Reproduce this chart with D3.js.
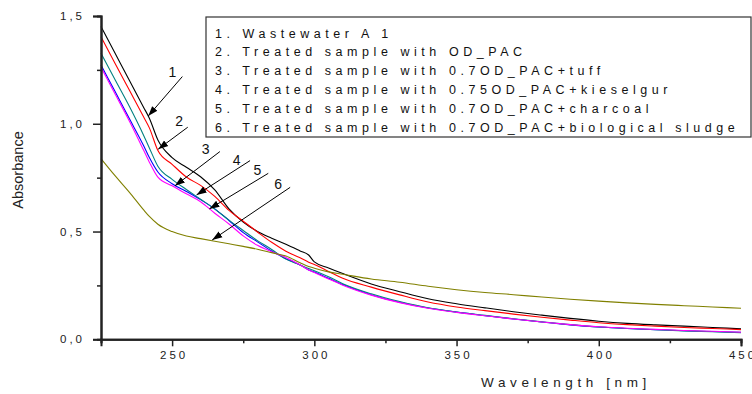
<!DOCTYPE html>
<html>
<head>
<meta charset="utf-8">
<script src="https://cdn.jsdelivr.net/npm/d3@7"></script>
<style>
  html, body { margin: 0; padding: 0; background: #fff; }
  svg { display: block; font-family: "Liberation Sans", Arial, sans-serif; }
</style>
</head>
<body>
<svg id="chart" width="752" height="394"></svg>
<script>
// ---------------- data ----------------
const wavelengths = [225, 230, 235, 240, 242, 245, 250, 255, 260, 265, 270, 275, 280, 285, 290, 295, 298, 300, 305, 310, 320, 330, 340, 350, 360, 370, 380, 390, 400, 410, 420, 430, 440, 450];

const series1 = [1.451, 1.326, 1.201, 1.076, 1.026, 0.925, 0.843, 0.798, 0.754, 0.693, 0.605, 0.544, 0.500, 0.469, 0.441, 0.410, 0.391, 0.359, 0.331, 0.305, 0.257, 0.221, 0.188, 0.165, 0.146, 0.128, 0.112, 0.097, 0.084, 0.074, 0.067, 0.061, 0.055, 0.049];
const series2 = [1.404, 1.279, 1.155, 1.031, 0.981, 0.876, 0.812, 0.753, 0.714, 0.663, 0.598, 0.548, 0.498, 0.450, 0.409, 0.378, 0.358, 0.347, 0.315, 0.283, 0.242, 0.206, 0.173, 0.150, 0.133, 0.117, 0.102, 0.089, 0.077, 0.068, 0.061, 0.055, 0.050, 0.045];
const series3 = [1.273, 1.148, 1.023, 0.898, 0.843, 0.776, 0.722, 0.686, 0.648, 0.605, 0.551, 0.495, 0.452, 0.410, 0.374, 0.345, 0.322, 0.312, 0.283, 0.254, 0.207, 0.172, 0.145, 0.126, 0.110, 0.094, 0.080, 0.067, 0.057, 0.050, 0.045, 0.040, 0.036, 0.032];
const series4 = [1.327, 1.203, 1.080, 0.946, 0.888, 0.803, 0.742, 0.695, 0.650, 0.604, 0.553, 0.505, 0.458, 0.417, 0.372, 0.345, 0.328, 0.318, 0.290, 0.258, 0.211, 0.175, 0.146, 0.127, 0.111, 0.095, 0.081, 0.068, 0.057, 0.050, 0.044, 0.039, 0.035, 0.031];
const series5 = [1.262, 1.137, 1.012, 0.877, 0.822, 0.752, 0.712, 0.675, 0.638, 0.585, 0.535, 0.480, 0.436, 0.406, 0.380, 0.345, 0.322, 0.310, 0.280, 0.251, 0.205, 0.170, 0.144, 0.125, 0.109, 0.094, 0.080, 0.068, 0.058, 0.051, 0.046, 0.041, 0.037, 0.033];
const series6 = [0.838, 0.758, 0.682, 0.600, 0.570, 0.534, 0.500, 0.479, 0.467, 0.455, 0.443, 0.431, 0.418, 0.402, 0.386, 0.355, 0.338, 0.330, 0.313, 0.302, 0.280, 0.265, 0.246, 0.230, 0.217, 0.207, 0.196, 0.186, 0.177, 0.169, 0.162, 0.156, 0.150, 0.144];

const seriesNames = [
  "1. Wastewater A 1",
  "2. Treated sample with OD_PAC",
  "3. Treated sample with 0.7OD_PAC+tuff",
  "4. Treated sample with 0.75OD_PAC+kieselgur",
  "5. Treated sample with 0.7OD_PAC+charcoal",
  "6. Treated sample with 0.7OD_PAC+biological sludge"
];
const seriesLabels = ["1", "2", "3", "4", "5", "6"];
const seriesColors = ["#000000", "#ff0000", "#0000ff", "#008080", "#ff00ff", "#808000"];

const xMajorTicks = [250, 300, 350, 400, 450];
const xMinorTicks = [225, 275, 325, 375, 425];
const yMajorTicks = [0, 0.5, 1.0, 1.5];
const yMinorTicks = [0.25, 0.75, 1.25];

// annotation arrows: label position, line start, arrow tip (data units)
const annLabelX = [250.1, 252.5, 261.8, 272.7, 280.0, 287.3];
const annLabelY = [1.242, 1.013, 0.883, 0.832, 0.786, 0.721];
const annStartX = [253.6, 255.5, 266.8, 277.4, 283.8, 291.5];
const annStartY = [1.219, 0.984, 0.871, 0.829, 0.770, 0.705];
const annTipX   = [241.6, 245.1, 251.0, 258.6, 263.1, 264.1];
const annTipY   = [1.036, 0.882, 0.712, 0.670, 0.605, 0.461];

// ---------------- chart ----------------
const svg = d3.select("#chart");
const x = d3.scaleLinear().domain([225, 450]).range([101, 741]);
const y = d3.scaleLinear().domain([0, 1.5]).range([339.3, 16]);

const allSeries = [series1, series2, series3, series4, series5, series6];

const line = d3.line()
  .x((d, i) => x(wavelengths[i]))
  .y(d => y(d))
  .curve(d3.curveMonotoneX);

const g = svg.append("g");
allSeries.forEach((s, k) => {
  g.append("path")
    .datum(s)
    .attr("fill", "none")
    .attr("stroke", seriesColors[k])
    .attr("stroke-width", 1.1)
    .attr("d", line);
});

// axes
const fmtComma = d => d3.format(".1f")(d).replace(".", ",");

const yAxis = svg.append("g").attr("transform", "translate(101,0)")
  .call(d3.axisLeft(y).tickValues(yMajorTicks).tickSize(8).tickPadding(8).tickFormat(fmtComma));
const yMinor = svg.append("g").attr("transform", "translate(101,0)")
  .call(d3.axisLeft(y).tickValues(yMinorTicks).tickSize(4).tickFormat(""));
const xAxis = svg.append("g").attr("transform", "translate(0,339.3)")
  .call(d3.axisBottom(x).tickValues(xMajorTicks).tickSize(7).tickPadding(5).tickFormat(d3.format("d")));
const xMinor = svg.append("g").attr("transform", "translate(0,339.3)")
  .call(d3.axisBottom(x).tickValues(xMinorTicks).tickSize(4).tickFormat(""));

[yAxis, yMinor, xAxis, xMinor].forEach(a => {
  a.select(".domain").attr("stroke", "#222").attr("stroke-width", 2);
  a.selectAll(".tick line").attr("stroke", "#222").attr("stroke-width", 1.5);
  a.selectAll(".tick text")
    .attr("fill", "#222")
    .style("font-size", "11.5px")
    .style("font-family", "'Liberation Sans', Arial, sans-serif")
    .style("letter-spacing", "3px");
});
xAxis.selectAll(".tick text").attr("dx", "1.5px");

// axis titles
svg.append("text")
  .attr("x", 566).attr("y", 387)
  .attr("text-anchor", "middle")
  .style("font-size", "13.5px")
  .style("letter-spacing", "4.6px")
  .attr("fill", "#222")
  .text("Wavelength [nm]");

svg.append("text")
  .attr("transform", "translate(23,170) rotate(-90)")
  .attr("text-anchor", "middle")
  .style("font-size", "14.5px")
  .attr("fill", "#222")
  .text("Absorbance");

// legend
svg.append("rect")
  .attr("x", 206).attr("y", 17).attr("width", 545).attr("height", 120)
  .attr("fill", "#fff").attr("stroke", "#333").attr("stroke-width", 1.2);

seriesNames.forEach((n, i) => {
  svg.append("text")
    .attr("x", 215).attr("y", 37.5 + i * 18.8)
    .style("font-size", "12.5px")
    .style("letter-spacing", "4.55px")
    .attr("fill", "#111")
    .text(n);
});

// annotation arrows
const defs = svg.append("defs");
defs.append("marker")
  .attr("id", "arrow")
  .attr("viewBox", "0 0 10 10")
  .attr("refX", 10).attr("refY", 5)
  .attr("markerWidth", 10).attr("markerHeight", 10)
  .attr("markerUnits", "userSpaceOnUse")
  .attr("orient", "auto")
  .append("path").attr("d", "M0,1.5 L10,5 L0,8.5 Z").attr("fill", "#000");

seriesLabels.forEach((lab, i) => {
  svg.append("line")
    .attr("x1", x(annStartX[i])).attr("y1", y(annStartY[i]))
    .attr("x2", x(annTipX[i])).attr("y2", y(annTipY[i]))
    .attr("stroke", "#000").attr("stroke-width", 1)
    .attr("marker-end", "url(#arrow)");
  svg.append("text")
    .attr("x", x(annLabelX[i])).attr("y", y(annLabelY[i]))
    .attr("text-anchor", "middle")
    .attr("dominant-baseline", "central")
    .style("font-size", "14px")
    .attr("fill", "#111")
    .text(lab);
});
</script>
</body>
</html>
